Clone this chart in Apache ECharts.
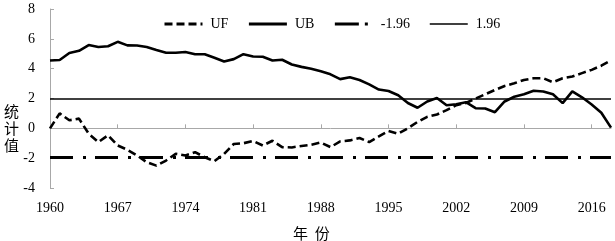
<!DOCTYPE html>
<html>
<head>
<meta charset="utf-8">
<script src="https://cdn.jsdelivr.net/npm/echarts@6/dist/echarts.min.js"></script>
<style>html,body{margin:0;padding:0;background:#fff;}#c{width:615px;height:241px;}</style>
</head>
<body>
<div id="c"></div>
<script>
const years = ['1960','1961','1962','1963','1964','1965','1966','1967','1968','1969',
  '1970','1971','1972','1973','1974','1975','1976','1977','1978','1979',
  '1980','1981','1982','1983','1984','1985','1986','1987','1988','1989',
  '1990','1991','1992','1993','1994','1995','1996','1997','1998','1999',
  '2000','2001','2002','2003','2004','2005','2006','2007','2008','2009',
  '2010','2011','2012','2013','2014','2015','2016','2017','2018'];
const UF = [0, 1.0, 0.54, 0.65, -0.36, -0.92, -0.47, -1.15, -1.44, -1.82,
  -2.27, -2.5, -2.16, -1.71, -1.82, -1.6, -1.94, -2.2, -1.71, -1.05,
  -1.0, -0.85, -1.15, -0.83, -1.26, -1.28, -1.18, -1.1, -0.95, -1.26,
  -0.88, -0.81, -0.65, -0.92, -0.54, -0.18, -0.36, 0.0, 0.43, 0.77,
  0.93, 1.22, 1.55, 1.7, 2.0, 2.28, 2.57, 2.84, 3.02, 3.24,
  3.36, 3.36, 3.09, 3.36, 3.47, 3.7, 3.92, 4.2, 4.55];
const UB = [4.55, 4.58, 5.05, 5.2, 5.58, 5.45, 5.5, 5.8, 5.56, 5.55,
  5.45, 5.25, 5.07, 5.07, 5.12, 4.97, 4.97, 4.73, 4.48, 4.64,
  4.97, 4.82, 4.8, 4.55, 4.6, 4.28, 4.12, 3.99, 3.82, 3.62,
  3.3, 3.42, 3.24, 2.95, 2.6, 2.5, 2.22, 1.7, 1.38, 1.8,
  2.03, 1.55, 1.62, 1.75, 1.35, 1.33, 1.08, 1.8, 2.12, 2.28,
  2.52, 2.47, 2.28, 1.69, 2.48, 2.08, 1.6, 1.05, 0.05];
const critLow = -1.96;
const critHigh = 1.96;
const yTicks = [-4, -2, 0, 2, 4, 6, 8];

const serif = 'Liberation Serif';
const chart = echarts.init(document.getElementById('c'));
const first = years[0], last = years[years.length - 1];
const ufStyle = { color: '#000', width: 2.6, type: [8, 4] };
const ubStyle = { color: '#000', width: 2.6, type: 'solid' };
const lowStyle = { color: '#000', width: 3, type: [23, 10, 3, 9] };
const highStyle = { color: '#000', width: 1.5, type: 'solid' };
chart.setOption({
  animation: false,
  backgroundColor: '#fff',
  textStyle: { fontFamily: serif },
  grid: { left: 50, right: 4, top: 9, bottom: 53, containLabel: false, outerBoundsMode: 'none' },
  legend: {
    top: 12, left: 158,
    itemWidth: 38, itemHeight: 14, itemGap: 19,
    itemStyle: { opacity: 0 },
    textStyle: { fontFamily: serif, fontSize: 14, color: '#000', padding: [0, 0, 0, 3] },
    data: [
      { name: 'UF', lineStyle: { width: 3, type: [8, 4] } },
      { name: 'UB', lineStyle: { width: 3 } },
      { name: '-1.96', lineStyle: { width: 3, type: [24, 6, 3, 6] } },
      { name: '1.96', lineStyle: { width: 1.5 } }
    ]
  },
  xAxis: [{
    type: 'category', data: years, boundaryGap: false,
    axisLine: { onZero: true, lineStyle: { color: '#a8a8a8', width: 1 } },
    axisTick: { inside: true, length: 4, interval: 6, lineStyle: { color: '#a8a8a8' } },
    axisLabel: { show: false },
    splitLine: { show: false }
  }, {
    type: 'category', data: years, boundaryGap: false, position: 'bottom',
    axisLine: { show: false, onZero: false },
    axisTick: { show: false },
    axisLabel: { interval: 6, margin: 13, fontFamily: serif, fontSize: 14, color: '#000' },
    splitLine: { show: false }
  }],
  yAxis: {
    type: 'value', min: yTicks[0], max: yTicks[yTicks.length - 1], interval: 2,
    axisLine: { show: true, lineStyle: { color: '#a8a8a8', width: 1 } },
    axisTick: { show: true, inside: true, length: 4, lineStyle: { color: '#a8a8a8' } },
    axisLabel: { margin: 15, fontFamily: serif, fontSize: 14, color: '#000' },
    splitLine: { show: false }
  },
  graphic: [
    { type: 'text', left: 4, top: 103, style: { text: '统\n计\n值', font: '15px "Noto Sans CJK SC"', lineHeight: 17, fill: '#000' } },
    { type: 'text', left: 293, top: 226, style: { text: '年  份', font: '15px "Noto Sans CJK SC"', fill: '#000' } }
  ],
  series: [
    { name: 'UF', type: 'line', data: UF, symbol: 'none', lineStyle: ufStyle, itemStyle: { color: '#000' } },
    { name: 'UB', type: 'line', data: UB, symbol: 'none', lineStyle: ubStyle, itemStyle: { color: '#000' } },
    { name: '-1.96', type: 'line', data: [[first, critLow], [last, critLow]], symbol: 'none', lineStyle: lowStyle, itemStyle: { color: '#000' } },
    { name: '1.96', type: 'line', data: [[first, critHigh], [last, critHigh]], symbol: 'none', lineStyle: highStyle, itemStyle: { color: '#000' } }
  ]
});
</script>
</body>
</html>
